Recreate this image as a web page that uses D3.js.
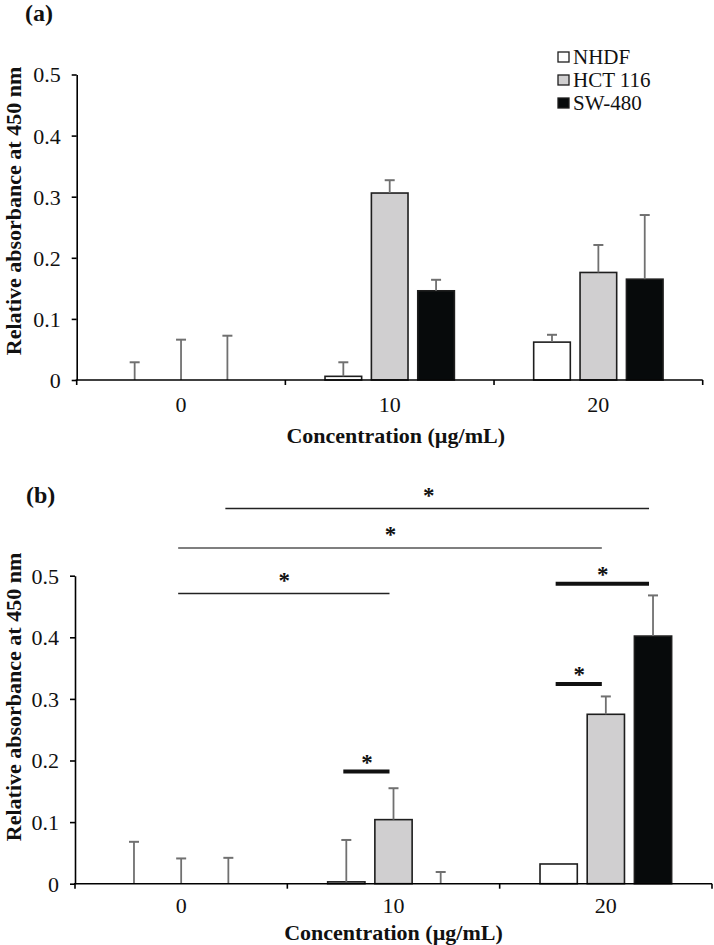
<!DOCTYPE html>
<html>
<head>
<meta charset="utf-8">
<script src="https://cdn.jsdelivr.net/npm/d3@7"></script>
<style>
  html, body { margin: 0; padding: 0; background: #fff; }
  svg { display: block; font-family: "Liberation Serif", "Times New Roman", serif; }
</style>
</head>
<body>
<svg id="chart" width="714" height="945"></svg>
<script>
// ---------------- data ----------------
const categories = ["0", "10", "20"];
const seriesNames = ["NHDF", "HCT 116", "SW-480"];
const seriesFills = ["#ffffff", "#d0cfd0", "#070a0b"];

// Panel (a)
const panelA_NHDF   = [0, 0.006, 0.062];
const panelA_HCT116 = [0, 0.306, 0.176];
const panelA_SW480  = [0, 0.146, 0.165];
const panelA_errNHDF   = [0.029, 0.023, 0.012];
const panelA_errHCT116 = [0.066, 0.021, 0.045];
const panelA_errSW480  = [0.0725, 0.018, 0.105];

// Panel (b)
const panelB_NHDF   = [0, 0.003, 0.032];
const panelB_HCT116 = [0, 0.104, 0.275];
const panelB_SW480  = [0, 0, 0.402];
const panelB_errNHDF   = [0.068, 0.068, 0];
const panelB_errHCT116 = [0.041, 0.051, 0.029];
const panelB_errSW480  = [0.042, 0.019, 0.066];

const yTicks = [0, 0.1, 0.2, 0.3, 0.4, 0.5];
const yTickLabels = ["0", "0.1", "0.2", "0.3", "0.4", "0.5"];

// Significance brackets for panel (b)
const sigStartCat    = ["0", "0", "0", "10", "20", "20"];
const sigStartSeries = ["SW-480", "HCT 116", "HCT 116", "NHDF", "NHDF", "NHDF"];
const sigEndCat      = ["20", "20", "10", "10", "20", "20"];
const sigEndSeries   = ["SW-480", "HCT 116", "HCT 116", "HCT 116", "SW-480", "HCT 116"];
const sigLevel       = [0.609, 0.545, 0.471, 0.182, 0.487, 0.324];
const sigThick       = [false, false, false, true, true, true];
const sigLabel       = ["*", "*", "*", "*", "*", "*"];

const yTitle = "Relative absorbance at 450 nm";
const xTitle = "Concentration (\u00b5g/mL)";

// ---------------- drawing ----------------
const svg = d3.select("#chart");

function drawPanel(cfg) {
  const g = svg.append("g");
  const x0 = d3.scaleBand().domain(categories).range(cfg.xRange).paddingInner(0).paddingOuter(0);
  const bw = x0.bandwidth();
  const x1 = d3.scaleBand().domain(seriesNames).range([bw / 6, bw * 5 / 6])
    .paddingInner(0.21).paddingOuter(0.105);
  const y = d3.scaleLinear().domain([0, 0.5]).range(cfg.yRange);

  const rows = [];
  categories.forEach((c, ci) => {
    seriesNames.forEach((s, si) => {
      rows.push({ cat: c, series: s, si: si, value: cfg.values[si][ci], err: cfg.errors[si][ci] });
    });
  });

  // bars
  g.selectAll("rect.bar").data(rows.filter(d => d.value > 0)).join("rect")
    .attr("class", "bar")
    .attr("x", d => x0(d.cat) + x1(d.series))
    .attr("y", d => y(d.value))
    .attr("width", x1.bandwidth())
    .attr("height", d => y(0) - y(d.value))
    .attr("fill", d => seriesFills[d.si])
    .attr("stroke", "#1e1e1e")
    .attr("stroke-width", 1.6);

  // error bars
  const eb = rows.filter(d => d.err > 0);
  const cx = d => x0(d.cat) + x1(d.series) + x1.bandwidth() / 2;
  g.selectAll("line.err").data(eb).join("line")
    .attr("x1", cx).attr("x2", cx)
    .attr("y1", d => y(d.value)).attr("y2", d => y(d.value + d.err))
    .attr("stroke", "#707070").attr("stroke-width", 1.8);
  g.selectAll("line.cap").data(eb).join("line")
    .attr("x1", d => cx(d) - 5).attr("x2", d => cx(d) + 5)
    .attr("y1", d => y(d.value + d.err)).attr("y2", d => y(d.value + d.err))
    .attr("stroke", "#707070").attr("stroke-width", 2);

  // y axis
  const yAxis = d3.axisLeft(y).tickValues(yTicks)
    .tickFormat((d, i) => yTickLabels[i]).tickSize(5).tickSizeOuter(0).tickPadding(11);
  const ya = g.append("g").attr("transform", `translate(${cfg.xRange[0]},0)`).call(yAxis);
  ya.select(".domain").attr("stroke", "#000").attr("stroke-width", 1.6);
  ya.selectAll(".tick line").attr("stroke", "#000").attr("stroke-width", 1.6);
  ya.selectAll(".tick text").attr("font-size", 22).attr("fill", "#111")
    .attr("font-family", "Liberation Serif").attr("dy", "0.34em");

  // x axis (labels at centers, ticks at boundaries)
  const xAxis = d3.axisBottom(x0).tickSize(0).tickSizeOuter(0).tickPadding(0);
  const xa = g.append("g").attr("transform", `translate(0,${y(0)})`).call(xAxis);
  xa.select(".domain").attr("stroke", "#000").attr("stroke-width", 1.6)
    .attr("d", `M${cfg.xRange[0] - 1},0H${cfg.xRange[1]}`);
  xa.selectAll(".tick text").attr("font-size", 22).attr("fill", "#111")
    .attr("font-family", "Liberation Serif").attr("dy", null).attr("y", cfg.xLabelOffset);
  const bounds = categories.map(c => x0(c)).concat([x0.range()[1]]);
  g.selectAll("line.xtick").data(bounds).join("line")
    .attr("x1", d => d).attr("x2", d => d)
    .attr("y1", y(0)).attr("y2", y(0) + 5)
    .attr("stroke", "#000").attr("stroke-width", 1.6);

  // titles
  g.append("text")
    .attr("transform", `translate(21,${cfg.yTitleCenter}) rotate(-90)`)
    .attr("text-anchor", "middle").attr("font-weight", "bold").attr("font-size", 22)
    .attr("fill", "#111").text(yTitle);
  g.append("text")
    .attr("x", (cfg.xRange[0] + cfg.xRange[1]) / 2 + cfg.xTitleDx).attr("y", cfg.xTitleY)
    .attr("text-anchor", "middle").attr("font-weight", "bold").attr("font-size", 22)
    .attr("fill", "#111").text(xTitle);
  g.append("text")
    .attr("x", cfg.labelX).attr("y", cfg.labelY)
    .attr("font-weight", "bold").attr("font-size", 24).attr("fill", "#111")
    .text(cfg.label);

  return { x0, x1, y, g };
}

const A = drawPanel({
  xRange: [76.7, 702.7], yRange: [380, 74.5],
  values: [panelA_NHDF, panelA_HCT116, panelA_SW480],
  errors: [panelA_errNHDF, panelA_errHCT116, panelA_errSW480],
  xLabelOffset: 32, xTitleDx: 6,
  yTitleCenter: 211, xTitleY: 443, label: "(a)", labelX: 25, labelY: 21
});

const B = drawPanel({
  xRange: [75, 712], yRange: [883.7, 575.7],
  values: [panelB_NHDF, panelB_HCT116, panelB_SW480],
  errors: [panelB_errNHDF, panelB_errHCT116, panelB_errSW480],
  xLabelOffset: 29, xTitleDx: 0,
  yTitleCenter: 697, xTitleY: 940, label: "(b)", labelX: 26, labelY: 503
});

// legend (panel a)
const leg = svg.append("g");
seriesNames.forEach((s, i) => {
  const cy = 57 + i * 23;
  leg.append("rect").attr("x", 558).attr("y", cy - 5).attr("width", 11).attr("height", 10)
    .attr("fill", seriesFills[i]).attr("stroke", "#1e1e1e").attr("stroke-width", 1.3);
  leg.append("text").attr("x", 573).attr("y", cy + 7).attr("font-size", 21)
    .attr("fill", "#111").text(s);
});

// significance brackets (panel b)
const bc = (cat, ser) => B.x0(cat) + B.x1(ser) + B.x1.bandwidth() / 2;
const sigRows = sigLevel.map((lv, i) => ({
  xa: bc(sigStartCat[i], sigStartSeries[i]),
  xb: bc(sigEndCat[i], sigEndSeries[i]),
  yy: B.y(lv), thick: sigThick[i], label: sigLabel[i], i
}));
svg.selectAll("line.sig").data(sigRows).join("line")
  .attr("x1", d => d.xa - 3).attr("x2", d => d.xb - 4)
  .attr("y1", d => d.yy).attr("y2", d => d.yy)
  .attr("stroke", d => d.thick ? "#111" : (d.i === 1 ? "#555" : "#222"))
  .attr("stroke-width", d => d.thick ? 4 : 1.5);
svg.selectAll("text.sig").data(sigRows).join("text")
  .attr("x", d => (d.xa + d.xb) / 2 - (d.i === 0 ? 12 : 3)).attr("y", d => d.yy - (d.thick ? 2 : 6))
  .attr("text-anchor", "middle").attr("font-size", 23).attr("font-weight", "bold").attr("fill", "#111")
  .text(d => d.label);
</script>
</body>
</html>
